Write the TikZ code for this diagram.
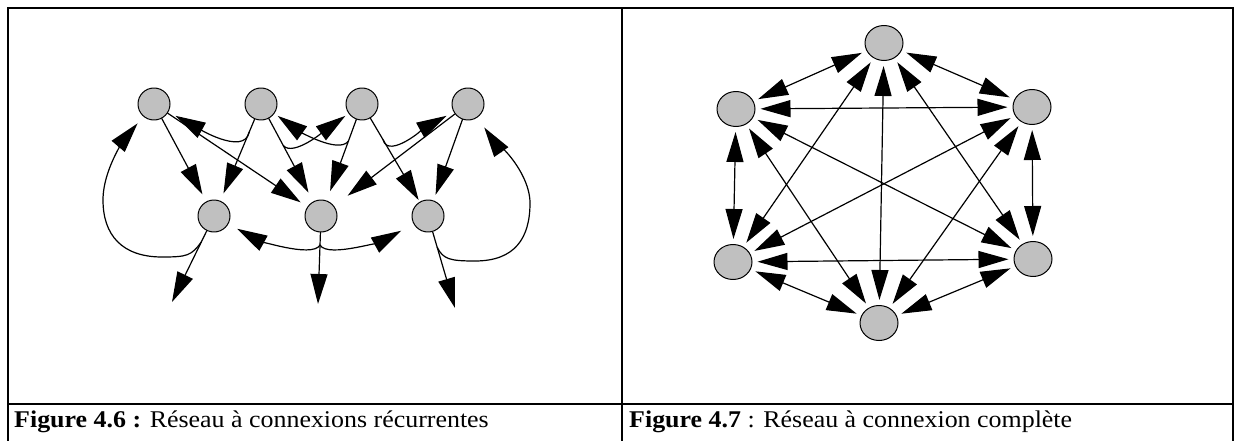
\documentclass[tikz,border=0pt]{standalone}
\usepackage{fontspec}
\setmainfont{Liberation Serif}
\usetikzlibrary{arrows.meta,shapes.geometric,calc}
\definecolor{neurongray}{HTML}{C0C0C0}
\begin{document}
\begin{tikzpicture}[x=1pt,y=-1pt,line join=round,line cap=round]
		\tikzset{neuron/.style={circle,draw,line width=1pt,fill=neurongray,minimum size=32pt,inner sep=0pt},
			unit/.style={ellipse,draw,line width=1pt,fill=neurongray,minimum width=38pt,minimum height=35pt,inner sep=0pt},
			syn/.style={-{Triangle[length=30pt,width=17pt]},line width=1.2pt,shorten >=8pt},
			bisyn/.style={{Triangle[length=30pt,width=17pt]}-{Triangle[length=30pt,width=17pt]},line width=1.2pt,shorten >=5pt,shorten <=5pt},
			caption/.style={anchor=base west,inner sep=0pt,xscale=1.08,font=\fontsize{24}{28}\selectfont}}
		\useasboundingbox (0,0) rectangle (1236,441);
		\draw[line width=2pt,line join=miter,line cap=butt] (8,441) -- (8,8.5) -- (1233,8.5) -- (1233,441);
		\draw[line width=2pt,line cap=butt] (622,8.5) -- (622,441);
		\draw[line width=2pt,line cap=butt] (8,404) -- (1233,404);
		\node[caption] (cap6) at (14,427) {\textbf{Figure 4.6 :} Réseau à connexions récurrentes};
		\node[caption] (cap7) at (629,427) {\textbf{Figure 4.7} : Réseau à connexion complète};
		% recurrent network
		\node[neuron] (t1) at (154,104) {};
		\node[neuron] (t2) at (261,104) {};
		\node[neuron] (t3) at (362,104) {};
		\node[neuron] (t4) at (468,104) {};
		\node[neuron] (b1) at (214,216) {};
		\node[neuron] (b2) at (321,216) {};
		\node[neuron] (b3) at (428,216) {};
		\coordinate (o1) at (172,302);
		\coordinate (o2) at (318,304);
		\coordinate (o3) at (455,308);
		\foreach \a/\b/\s in {t1/b1/8,t1/b2/8,t2/b1/8,t2/b2/10,t3/b2/10,t3/b3/2,t4/b2/17,t4/b3/6}
			\draw[syn,shorten >=\s pt] (\a) -- (\b);
		\foreach \a/\b in {b1/o1,b2/o2,b3/o3}
			\draw[syn,shorten >=0pt] (\a) -- (\b);
		\coordinate (k21) at ($(t2)!0.25!(b1)$);
		\coordinate (k22) at ($(t2)!0.37!(b2)$);
		\coordinate (k32) at ($(t3)!0.33!(b2)$);
		\coordinate (k34) at ($(t3)!0.32!(b3)$);
		\coordinate (k1) at ($(b1)!0.3!(o1)$);
		\coordinate (k2) at ($(b2)!0.33!(o2)$);
		\coordinate (k3) at ($(b3)!0.34!(o3)$);
		\draw[syn] (k21) .. controls +(-5,25) and +(40,22) .. (t1);
		\draw[syn,shorten >=4pt] (k22) .. controls +(10,12) and +(-35,25) .. (t3);
		\draw[syn,shorten >=4pt] (k32) .. controls +(-10,14) and +(35,25) .. (t2);
		\draw[syn] (k34) .. controls +(5,20) and +(-40,22) .. (t4);
		\draw[syn,shorten >=10pt] (k2) .. controls +(-8,14) and +(40,22) .. (b1);
		\draw[syn,shorten >=14pt] (k2) .. controls +(8,14) and +(-40,22) .. (b3);
		\draw[syn,shorten >=9pt] (k1) .. controls +(-10,14) and +(25,0) .. (162,257) .. controls +(-40,0) and +(0,35) .. (103,200) .. controls +(0,-35) and +(-22,26) .. (t1);
		\draw[syn,shorten >=12pt] (k3) .. controls +(6,12) and +(-25,0) .. (475,261) .. controls +(40,0) and +(0,35) .. (530,203) .. controls +(0,-35) and +(18,26) .. (t4);
		% complete network
		\node[unit] (n1) at (884,43) {};
		\node[unit] (n2) at (1032,107) {};
		\node[unit] (n3) at (1033,259) {};
		\node[unit] (n4) at (879,323) {};
		\node[unit] (n5) at (733,262) {};
		\node[unit] (n6) at (736,109) {};
		\foreach \a/\b in {n1/n2,n1/n3,n1/n4,n1/n5,n1/n6,n2/n3,n2/n4,n2/n5,n2/n6,n3/n4,n3/n5,n3/n6,n4/n5,n4/n6,n5/n6}
			\draw[bisyn] (\a) -- (\b);
\end{tikzpicture}
\end{document}
